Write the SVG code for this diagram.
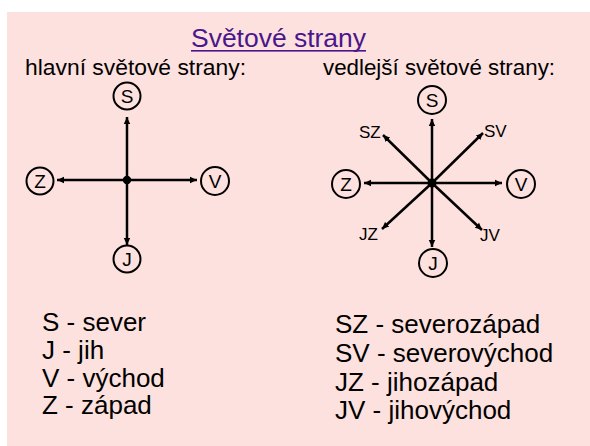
<svg xmlns="http://www.w3.org/2000/svg" width="590" height="446" viewBox="0 0 590 446">
<defs>
<style>
text{font-family:"Liberation Sans",Arial,sans-serif;fill:#000}
.ln{stroke:#000;stroke-width:2.5;fill:none;marker-end:url(#ah)}
.c{fill:none;stroke:#000;stroke-width:2}
.cl{font-size:19px;text-anchor:middle}
.lb{font-size:17px}
.big{font-size:26px}
.sub{font-size:22.5px}
</style>
<marker id="ah" markerWidth="8" markerHeight="8" refX="7" refY="4" orient="auto" markerUnits="userSpaceOnUse">
<path d="M0,0.8 L7,4 L0,7.2 Z" fill="#000"/>
</marker>
</defs>
<rect x="0" y="0" width="590" height="446" fill="#ffffff"/>
<rect x="7" y="12" width="583" height="434" fill="#fde1de"/>
<g id="title">
<text x="191" y="47" style="font-size:25px;fill:#4b168c" textLength="175" lengthAdjust="spacingAndGlyphs">Světové strany</text>
<rect x="191" y="50" width="175" height="1.6" fill="#4b168c"/>
</g>
<text class="sub" x="25" y="75" textLength="221" lengthAdjust="spacingAndGlyphs">hlavní světové strany:</text>
<text class="sub" x="323" y="75" textLength="232" lengthAdjust="spacingAndGlyphs">vedlejší světové strany:</text>
<g id="connectors">
<line class="ln" x1="127" y1="180" x2="127" y2="117"/>
<line class="ln" x1="127" y1="180" x2="127" y2="245"/>
<line class="ln" x1="127" y1="180" x2="57" y2="180"/>
<line class="ln" x1="127" y1="180" x2="197" y2="180"/>
<line class="ln" x1="432" y1="183" x2="432" y2="119"/>
<line class="ln" x1="432" y1="183" x2="432" y2="247"/>
<line class="ln" x1="432" y1="183" x2="364" y2="183"/>
<line class="ln" x1="432" y1="183" x2="502" y2="183"/>
<line class="ln" x1="432" y1="183" x2="383" y2="135"/>
<line class="ln" x1="432" y1="183" x2="483" y2="133"/>
<line class="ln" x1="432" y1="183" x2="382" y2="229"/>
<line class="ln" x1="432" y1="183" x2="482" y2="230"/>
</g>
<g id="center-left"><circle cx="127" cy="180" r="4.2" fill="#000"/></g>
<g id="center-right"><circle cx="432" cy="183" r="4.5" fill="#000"/></g>
<g id="L-S"><circle class="c" cx="127" cy="96" r="13.5"/><text class="cl" x="127" y="103">S</text></g>
<g id="L-Z"><circle class="c" cx="40" cy="181" r="13.5"/><text class="cl" x="40" y="188">Z</text></g>
<g id="L-V"><circle class="c" cx="215" cy="181" r="14"/><text class="cl" x="215" y="188">V</text></g>
<g id="L-J"><circle class="c" cx="127" cy="259" r="13.5"/><text class="cl" x="127" y="266">J</text></g>
<g id="R-S"><circle class="c" cx="432" cy="100" r="14"/><text class="cl" x="432" y="107">S</text></g>
<g id="R-Z"><circle class="c" cx="346" cy="184" r="14"/><text class="cl" x="346" y="191">Z</text></g>
<g id="R-V"><circle class="c" cx="521" cy="184" r="14"/><text class="cl" x="521" y="191">V</text></g>
<g id="R-J"><circle class="c" cx="433" cy="263" r="14"/><text class="cl" x="433" y="270">J</text></g>
<g id="R-SZ"><text class="lb" x="359" y="138">SZ</text></g>
<g id="R-SV"><text class="lb" x="484" y="137">SV</text></g>
<g id="R-JZ"><text class="lb" x="359" y="240">JZ</text></g>
<g id="R-JV"><text class="lb" x="480" y="241">JV</text></g>
<g id="legend-left">
<text class="big" x="42" y="331">S - sever</text>
<text class="big" x="42" y="359">J - jih</text>
<text class="big" x="42" y="387">V - východ</text>
<text class="big" x="42" y="414">Z - západ</text>
</g>
<g id="legend-right">
<text class="big" x="335" y="333">SZ - severozápad</text>
<text class="big" x="335" y="362">SV - severovýchod</text>
<text class="big" x="335" y="391">JZ - jihozápad</text>
<text class="big" x="335" y="419">JV - jihovýchod</text>
</g>
</svg>
